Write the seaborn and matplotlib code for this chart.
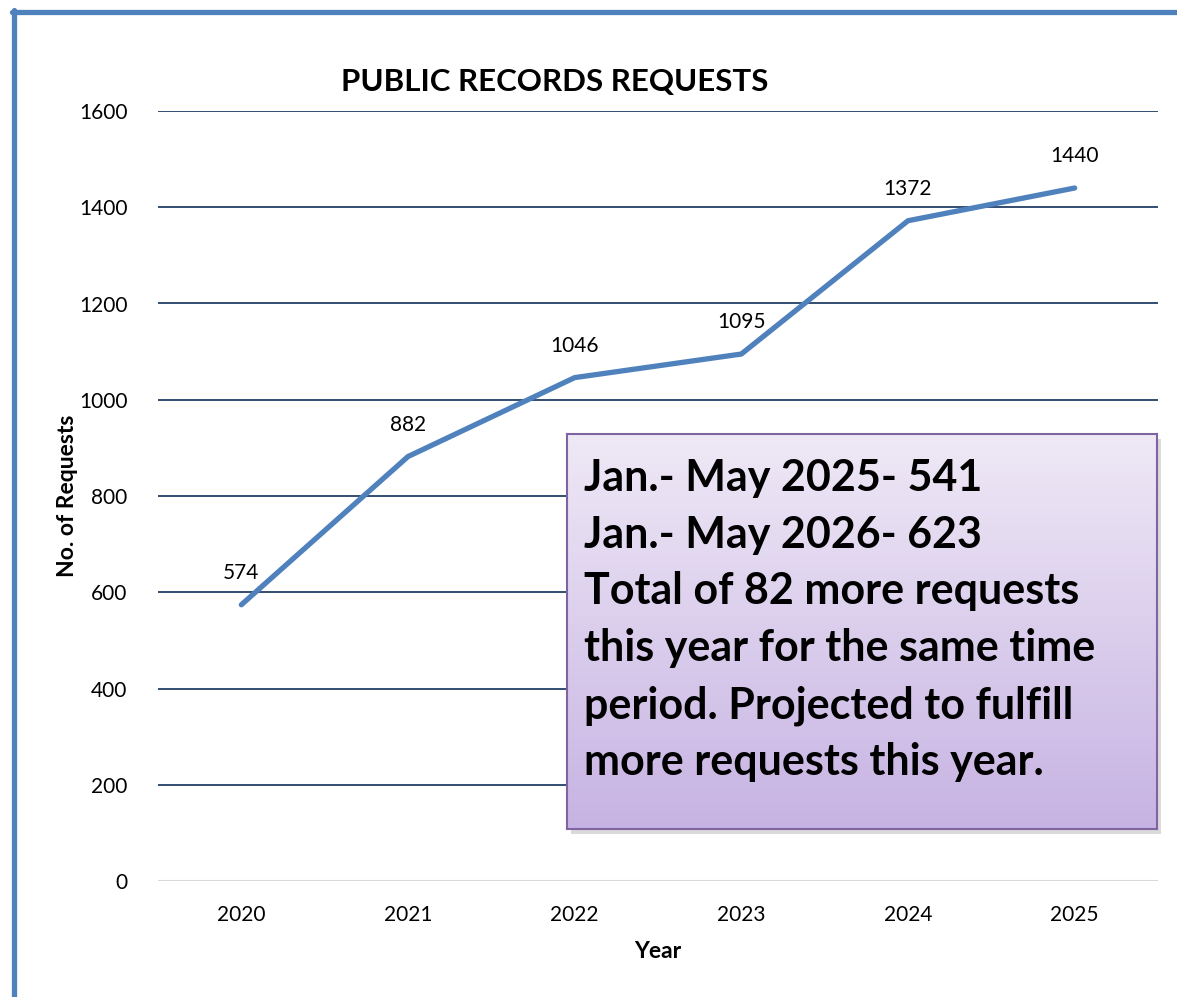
import numpy as np
import pandas as pd
import matplotlib.pyplot as plt
import seaborn as sns
from matplotlib.lines import Line2D
from matplotlib.patches import Rectangle

years = ["2020", "2021", "2022", "2023", "2024", "2025"]
requests = [574, 882, 1046, 1095, 1372, 1440]
y_ticks = [0, 200, 400, 600, 800, 1000, 1200, 1400, 1600]

note_lines = [
    "Jan.- May 2025- 541",
    "Jan.- May 2026- 623",
    "Total of 82 more requests",
    "this year for the same time",
    "period. Projected to fulfill",
    "more requests this year.",
]

LINE_BLUE = "#4F81BD"
GRID_NAVY = "#243F66"

sns.set_style("white")
plt.rcParams["font.family"] = ["Lato", "DejaVu Sans"]
plt.rcParams["text.color"] = "black"
plt.rcParams["xtick.color"] = "black"
plt.rcParams["ytick.color"] = "black"
plt.rcParams["axes.labelcolor"] = "black"

df = pd.DataFrame({"year": years, "requests": requests})

fig = plt.figure(figsize=(11.77, 9.97), dpi=100)
ax = fig.add_axes([158 / 1177, 1 - 881 / 997, 1000 / 1177, 770 / 997])

sns.lineplot(data=df, x="year", y="requests", sort=False, color=LINE_BLUE,
             linewidth=3.8, solid_capstyle="round", ax=ax, zorder=3)

ax.set_xlim(-0.5, len(years) - 0.5)
ax.set_ylim(0, 1600)
ax.set_yticks(y_ticks)
for t in y_ticks[1:]:
    ax.axhline(t, color=GRID_NAVY, linewidth=1.3, zorder=1)
ax.axhline(0, color="#D9D9D9", linewidth=1.5, zorder=1)
for s in ax.spines.values():
    s.set_visible(False)
ax.tick_params(axis="both", length=0, labelsize=15)
ax.tick_params(axis="x", pad=17)
ax.tick_params(axis="y", pad=22)
ax.set_xlabel("Year", fontsize=16.5, fontweight="bold", labelpad=12)
ax.set_ylabel("No. of Requests", fontsize=16.5, fontweight="bold", labelpad=1)

for i, v in enumerate(requests):
    ax.annotate(str(v), (i, v), xytext=(0, 23), textcoords="offset points",
                ha="center", va="center", fontsize=15)

fig.text(555 / 1177, 1 - 82 / 997, "PUBLIC RECORDS REQUESTS", ha="center",
         va="center", fontsize=22.5, fontweight="bold")

# note box with purple gradient and soft shadow
bx, by, bw, bh = 567 / 1177, 1 - 829 / 997, 590 / 1177, 395 / 997
fig.patches.append(Rectangle((bx + 0.003, by - 0.005), bw, bh, transform=fig.transFigure,
                             facecolor="#BDBDBD", edgecolor="none", alpha=0.55, zorder=4))
nax = fig.add_axes([bx, by, bw, bh], zorder=5)
grad = np.linspace(0, 1, 256).reshape(-1, 1)
top = np.array([0.937, 0.914, 0.965])
bot = np.array([0.780, 0.702, 0.890])
img = top + (bot - top) * grad[:, :, None]
nax.imshow(img, aspect="auto", extent=(0, 1, 0, 1))
nax.set_xlim(0, 1)
nax.set_ylim(0, 1)
nax.set_xticks([])
nax.set_yticks([])
for s in nax.spines.values():
    s.set_color("#8064A2")
    s.set_linewidth(1.5)
nax.text(0.028, 0.94, "\n".join(note_lines), ha="left", va="top", fontsize=31,
         fontweight="bold", linespacing=1.51, transform=nax.transAxes)

# slide frame lines
fig.add_artist(Line2D([12 / 1177, 1], [1 - 12 / 997] * 2, transform=fig.transFigure,
                      color=LINE_BLUE, linewidth=3.8))
fig.add_artist(Line2D([14 / 1177] * 2, [0, 1 - 10 / 997], transform=fig.transFigure,
                      color=LINE_BLUE, linewidth=3.8))

fig.savefig("out.png", dpi=100)
